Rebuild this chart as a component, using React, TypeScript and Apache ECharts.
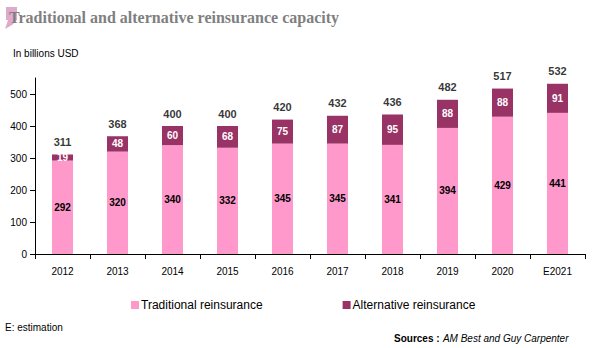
import React, { useEffect, useRef } from "react";
import * as echarts from "echarts";

const categories = ["2012", "2013", "2014", "2015", "2016", "2017", "2018", "2019", "2020", "E2021"];
const traditional = [292, 320, 340, 332, 345, 345, 341, 394, 429, 441];
const alternative = [19, 48, 60, 68, 75, 87, 95, 88, 88, 91];
const totals = [311, 368, 400, 400, 420, 432, 436, 482, 517, 532];
const yTicks = [0, 100, 200, 300, 400, 500];

const FONT = "Liberation Sans, Arial, sans-serif";

export default function App() {
  const ref = useRef<HTMLDivElement>(null);
  useEffect(() => {
    if (!ref.current) return;
    const chart = echarts.init(ref.current, null, { renderer: "svg" });
    chart.setOption({
      animation: false,
      backgroundColor: "#ffffff",
      textStyle: { fontFamily: FONT },
      grid: { left: 35, right: 15, top: 78, bottom: 94, containLabel: false },
      xAxis: {
        type: "category",
        data: categories,
        axisLine: { lineStyle: { color: "#000", width: 1 } },
        axisTick: { show: true, alignWithLabel: false, length: 5, lineStyle: { color: "#000" } },
        axisLabel: { color: "#000", fontSize: 10, margin: 12, fontFamily: FONT },
      },
      yAxis: {
        type: "value",
        min: 0,
        max: 550,
        interval: 100,
        splitLine: { show: false },
        axisLine: { show: true, lineStyle: { color: "#000", width: 1 } },
        axisTick: { show: true, length: 5, lineStyle: { color: "#000" }, customValues: yTicks },
        axisLabel: { color: "#000", fontSize: 10, margin: 8, fontFamily: FONT, customValues: yTicks },
      },
      legend: {
        left: 131,
        top: 299,
        padding: 0,
        itemWidth: 8,
        itemHeight: 8,
        itemGap: 80,
        icon: "rect",
        textStyle: { fontSize: 12, color: "#000", fontFamily: FONT, padding: [0, 0, 0, -3] },
        data: ["Traditional reinsurance", "Alternative reinsurance"],
      },
      series: [
        {
          name: "Traditional reinsurance",
          type: "bar",
          stack: "total",
          barWidth: 21,
          data: traditional,
          itemStyle: { color: "#FF99CC" },
          label: {
            show: true,
            position: "inside",
            color: "#000",
            fontSize: 10,
            fontWeight: "bold",
            fontFamily: FONT,
          },
        },
        {
          name: "Alternative reinsurance",
          type: "bar",
          stack: "total",
          barWidth: 21,
          data: alternative,
          itemStyle: { color: "#993366" },
          label: {
            show: true,
            position: "inside",
            color: "#fff",
            fontSize: 10,
            fontWeight: "bold",
            fontFamily: FONT,
          },
        },
        {
          name: "Total",
          type: "scatter",
          data: totals,
          symbolSize: 0,
          silent: true,
          label: {
            show: true,
            position: "top",
            distance: 7,
            color: "#000",
            fontSize: 11,
            fontWeight: "bold",
            fontFamily: FONT,
          },
        },
      ],
      graphic: [
        {
          type: "polygon",
          shape: { points: [[6, 7], [17, 7], [17, 20], [12, 25], [5, 29], [8, 20], [6, 20]] },
          style: { fill: "#E0AACB" },
        },
        {
          type: "text",
          left: 9,
          top: 9,
          style: {
            text: "Traditional and alternative reinsurance capacity",
            fill: "#7F7F7F",
            font: "bold 16px 'Liberation Serif', 'DejaVu Serif', serif",
          },
        },
        {
          type: "text",
          left: 13,
          top: 48,
          style: { text: "In billions USD", fill: "#000", font: "10px " + FONT },
        },
        {
          type: "text",
          left: 5,
          top: 322,
          style: { text: "E: estimation", fill: "#000", font: "10px " + FONT },
        },
        {
          type: "text",
          left: 394,
          top: 332,
          style: {
            text: "{b|Sources :} {i|AM Best and Guy Carpenter}",
            rich: {
              b: { fontWeight: "bold", fontSize: 10, fontFamily: FONT, fill: "#000" },
              i: { fontStyle: "italic", fontSize: 10, fontFamily: FONT, fill: "#000" },
            },
          },
        },
      ],
    });
    return () => chart.dispose();
  }, []);
  return <div ref={ref} style={{ width: 600, height: 348, position: "absolute", left: 0, top: 0 }} />;
}
